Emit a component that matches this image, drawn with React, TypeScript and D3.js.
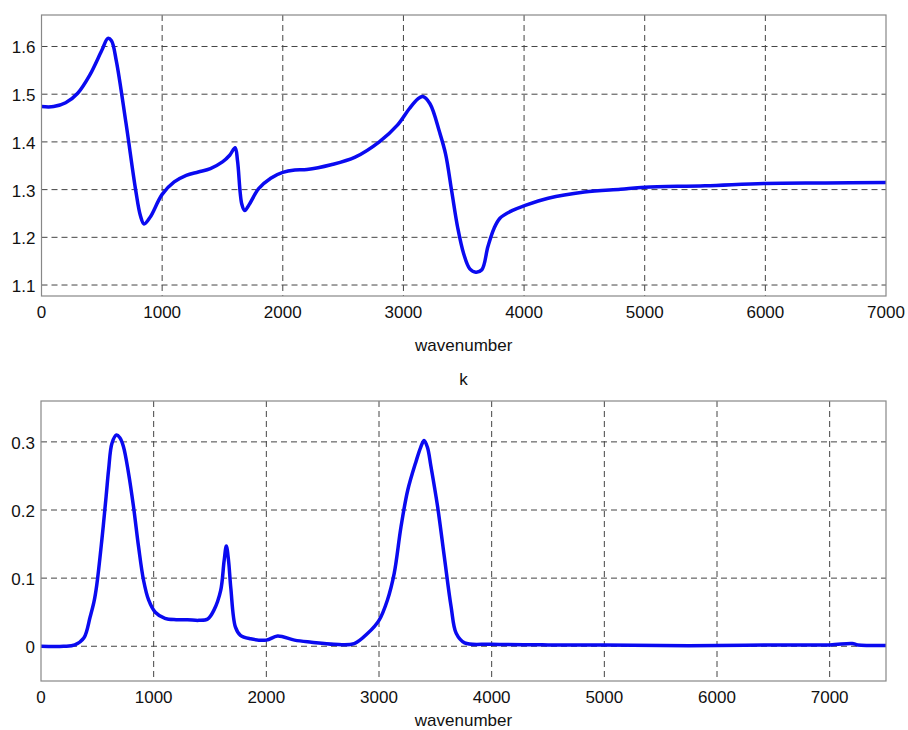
import React from "react";
import * as d3 from "d3";

// refractive index n
const nWave = [0, 100, 200, 300, 400, 500, 550, 580, 620, 700, 780, 820, 850, 900, 1000, 1100, 1200, 1300, 1400, 1500, 1560, 1605, 1625, 1660, 1685, 1720, 1800, 1900, 2000, 2100, 2200, 2400, 2600, 2800, 2950, 3050, 3120, 3160, 3220, 3300, 3350, 3400, 3450, 3500, 3550, 3600, 3650, 3700, 3750, 3800, 3900, 4000, 4200, 4500, 4800, 5000, 5500, 6000, 6500, 7000];
const nValues = [1.474, 1.474, 1.482, 1.502, 1.54, 1.592, 1.617, 1.612, 1.57, 1.44, 1.3, 1.245, 1.228, 1.242, 1.29, 1.316, 1.33, 1.337, 1.344, 1.358, 1.372, 1.388, 1.36, 1.27, 1.256, 1.268, 1.302, 1.324, 1.336, 1.341, 1.342, 1.352, 1.368, 1.4, 1.435, 1.47, 1.49, 1.495, 1.48, 1.42, 1.374, 1.297, 1.22, 1.165, 1.134, 1.127, 1.132, 1.18, 1.218, 1.24, 1.256, 1.266, 1.282, 1.295, 1.301, 1.305, 1.308, 1.313, 1.314, 1.315];

// extinction k
const kWave = [0, 200, 300, 380, 436, 470, 495, 540, 578, 600, 630, 670, 700, 732, 777, 821, 866, 910, 955, 1014, 1100, 1200, 1300, 1400, 1480, 1535, 1595, 1625, 1645, 1665, 1685, 1726, 1770, 1860, 2000, 2100, 2250, 2400, 2600, 2780, 2900, 3000, 3075, 3135, 3195, 3255, 3330, 3370, 3400, 3430, 3460, 3520, 3580, 3640, 3685, 3760, 4000, 4500, 5000, 5500, 6000, 6500, 7000, 7200, 7250, 7500];
const kValues = [0, 0, 0.002, 0.012, 0.043, 0.065, 0.09, 0.156, 0.22, 0.259, 0.298, 0.31, 0.306, 0.293, 0.254, 0.205, 0.146, 0.097, 0.068, 0.05, 0.041, 0.039, 0.039, 0.038, 0.04, 0.053, 0.082, 0.125, 0.147, 0.125, 0.085, 0.028, 0.016, 0.011, 0.009, 0.015, 0.009, 0.006, 0.003, 0.004, 0.019, 0.038, 0.068, 0.107, 0.175, 0.229, 0.272, 0.292, 0.302, 0.292, 0.265, 0.205, 0.131, 0.058, 0.019, 0.005, 0.003, 0.002, 0.002, 0.001, 0.001, 0.002, 0.002, 0.004, 0.002, 0.001];

const nXTicks = [0, 1000, 2000, 3000, 4000, 5000, 6000, 7000];
const nYTicks = [1.1, 1.2, 1.3, 1.4, 1.5, 1.6];
const kXTicks = [0, 1000, 2000, 3000, 4000, 5000, 6000, 7000];
const kYTicks = [0, 0.1, 0.2, 0.3];

const FONT = "Liberation Sans, Arial, sans-serif";

type PanelProps = {
  wave: number[];
  values: number[];
  xDomain: [number, number];
  yDomain: [number, number];
  xTicks: number[];
  yTicks: number[];
  box: { x0: number; x1: number; y0: number; y1: number };
  yFormat: (v: number) => string;
  labelGap: number;
  title?: string;
};

function Panel({ wave, values, xDomain, yDomain, xTicks, yTicks, box, yFormat, labelGap, title }: PanelProps) {
  const x = d3.scaleLinear().domain(xDomain).range([box.x0, box.x1]);
  const y = d3.scaleLinear().domain(yDomain).range([box.y1, box.y0]);
  const pts = wave.map((w, i) => [w, values[i]] as [number, number]);
  const line = d3
    .line<[number, number]>()
    .x((d) => x(d[0]))
    .y((d) => y(d[1]))
    .curve(d3.curveCatmullRom.alpha(0.5));

  const midX = (box.x0 + box.x1) / 2;

  return (
    <g>
      <rect x={box.x0} y={box.y0} width={box.x1 - box.x0} height={box.y1 - box.y0} fill="#fff" />
      {/* grid */}
      {xTicks.map((t) =>
        t > xDomain[0] && t < xDomain[1] ? (
          <line key={"gx" + t} x1={x(t)} x2={x(t)} y1={box.y0} y2={box.y1} stroke="#444" strokeWidth={1} strokeDasharray="6,4" />
        ) : null
      )}
      {yTicks.map((t) => (
        <line key={"gy" + t} x1={box.x0} x2={box.x1} y1={y(t)} y2={y(t)} stroke="#444" strokeWidth={1} strokeDasharray="6,4" />
      ))}
      <path d={line(pts) || ""} fill="none" stroke="#0a0af0" strokeWidth={3.5} strokeLinejoin="round" />
      <rect x={box.x0} y={box.y0} width={box.x1 - box.x0} height={box.y1 - box.y0} fill="none" stroke="#888" strokeWidth={1.2} />
      {xTicks.map((t) => (
        <text key={"tx" + t} x={x(t)} y={box.y1 + 22} textAnchor="middle" fontFamily={FONT} fontSize={17} fill="#111">
          {t}
        </text>
      ))}
      {yTicks.map((t) => (
        <text key={"ty" + t} x={box.x0 - 6} y={y(t) + 7} textAnchor="end" fontFamily={FONT} fontSize={17} fill="#111">
          {yFormat(t)}
        </text>
      ))}
      <text x={midX} y={box.y1 + labelGap} textAnchor="middle" fontFamily={FONT} fontSize={17} fill="#111">
        wavenumber
      </text>
      {title ? (
        <text x={midX} y={box.y0 - 16} textAnchor="middle" fontFamily={FONT} fontSize={17} fill="#111">
          {title}
        </text>
      ) : null}
    </g>
  );
}

export default function App() {
  return (
    <svg width={908} height={730} style={{ position: "absolute", left: 0, top: 0, background: "#fff" }}>
      <rect width={908} height={730} fill="#fff" />
      <Panel
        wave={nWave}
        values={nValues}
        xDomain={[0, 7000]}
        yDomain={[1.077, 1.666]}
        xTicks={nXTicks}
        yTicks={nYTicks}
        box={{ x0: 41.5, x1: 886, y0: 15, y1: 296 }}
        yFormat={(v) => v.toFixed(1)}
        labelGap={55}
      />
      <Panel
        wave={kWave}
        values={kValues}
        xDomain={[0, 7500]}
        yDomain={[-0.051, 0.36]}
        xTicks={kXTicks}
        yTicks={kYTicks}
        box={{ x0: 41, x1: 886, y0: 401, y1: 681 }}
        yFormat={(v) => (v === 0 ? "0" : v.toFixed(1))}
        labelGap={45}
        title="k"
      />
    </svg>
  );
}
